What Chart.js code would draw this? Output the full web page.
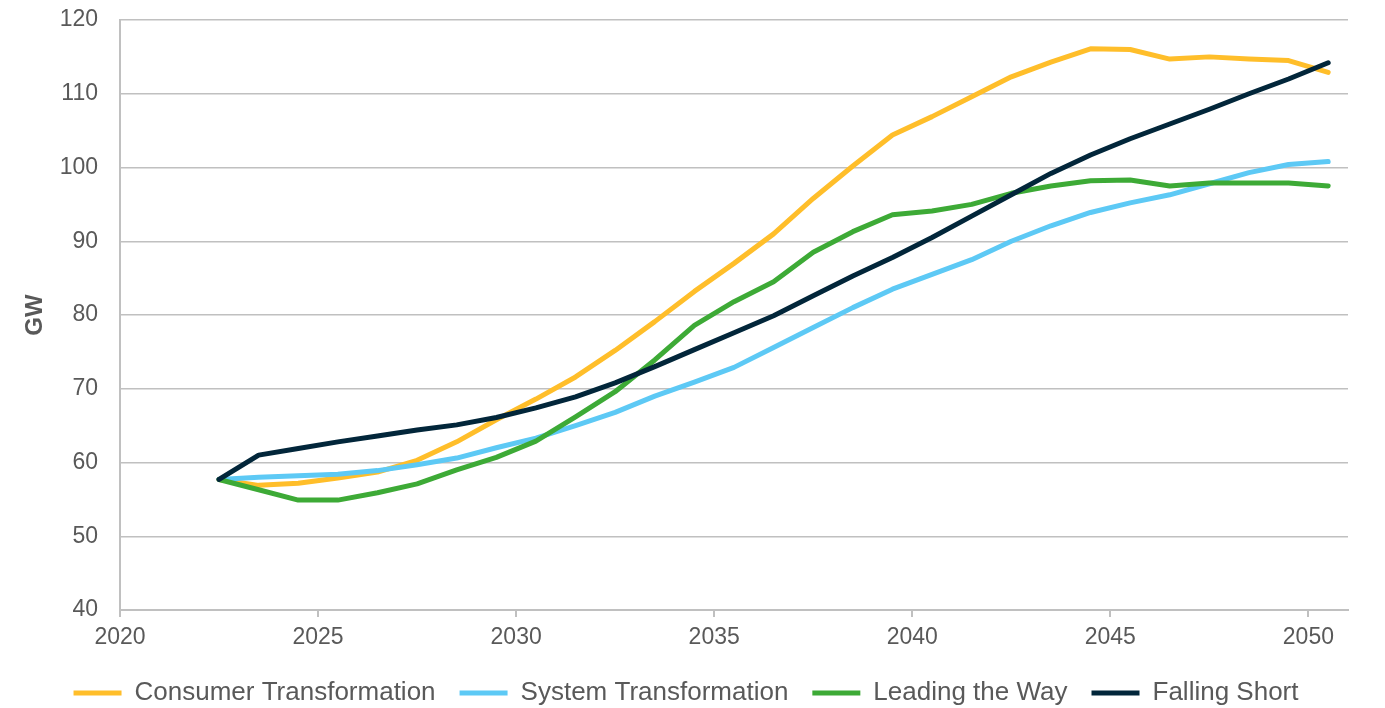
<!DOCTYPE html>
<html>
<head>
<meta charset="utf-8">
<script src="https://cdn.jsdelivr.net/npm/chart.js@4.4.1/dist/chart.umd.min.js"></script>
<style>
  html, body { margin: 0; padding: 0; background: #fff; }
  #wrap { width: 1385px; height: 708px; }
</style>
</head>
<body>
<div id="wrap"><canvas id="myChart"></canvas></div>
<script>
// one value per year, plotted at mid-year
const years = [2022, 2023, 2024, 2025, 2026, 2027, 2028, 2029, 2030, 2031, 2032, 2033, 2034, 2035,
  2036, 2037, 2038, 2039, 2040, 2041, 2042, 2043, 2044, 2045, 2046, 2047, 2048, 2049, 2050]
const xTicks = [2020, 2025, 2030, 2035, 2040, 2045, 2050]

const consumerTransformation = [57.7, 56.9, 57.2, 57.9, 58.7, 60.3, 62.8, 65.8, 68.6, 71.6, 75.2, 79.1, 83.2, 87.0,
  91.0, 95.8, 100.2, 104.4, 106.9, 109.6, 112.3, 114.3, 116.1, 116.0, 114.7, 115.0, 114.7, 114.5, 112.9]
const systemTransformation = [57.7, 58.0, 58.2, 58.4, 58.9, 59.7, 60.6, 62.0, 63.3, 65.0, 66.8, 69.0, 70.9, 72.9,
  75.6, 78.3, 81.0, 83.5, 85.5, 87.5, 90.0, 92.1, 93.9, 95.2, 96.3, 97.8, 99.3, 100.4, 100.8]
const leadingTheWay = [57.7, 56.3, 54.9, 54.9, 55.9, 57.1, 59.0, 60.7, 62.9, 66.2, 69.6, 73.9, 78.6, 81.8,
  84.5, 88.5, 91.3, 93.6, 94.1, 95.0, 96.5, 97.5, 98.2, 98.3, 97.5, 97.9, 97.9, 97.9, 97.5]
const fallingShort = [57.7, 61.0, 61.9, 62.8, 63.6, 64.4, 65.1, 66.1, 67.4, 68.9, 70.8, 73.0, 75.3, 77.6,
  79.9, 82.6, 85.3, 87.8, 90.5, 93.4, 96.3, 99.2, 101.7, 103.9, 105.9, 107.9, 110.0, 112.0, 114.2]

const seriesNames = ['Consumer Transformation', 'System Transformation', 'Leading the Way', 'Falling Short']
const seriesColors = ['#FFBE2A', '#5DC9F5', '#3DAA36', '#02263A']
const seriesValues = [consumerTransformation, systemTransformation, leadingTheWay, fallingShort]

const textColor = '#595959'
const gridColor = '#C0C0C0'
const fontFamily = "'Liberation Sans', Arial, sans-serif"

const toPoints = (values) => years.map((yr, i) => ({x: yr + 0.5, y: values[i]}))

const data = {
    datasets: seriesNames.map((name, i) => ({
        label: name,
        data: toPoints(seriesValues[i]),
        borderColor: seriesColors[i],
        backgroundColor: seriesColors[i],
        borderWidth: 5,
        borderCapStyle: 'round',
        borderJoinStyle: 'round',
        pointRadius: 0,
        pointStyle: 'line',
        fill: false,
        tension: 0,
        order: seriesNames.length - i   // last series on top, like the original
    }))
}

// move the legend a bit, Chart.js puts it a few px too high and left
const legendNudge = {
    id: 'legendNudge',
    afterLayout(chart) {
        const lg = chart.legend
        lg.top += 8
        lg.bottom += 8
        lg.left += 12
        lg.right += 12
    }
}

const config = {
    type: 'line',
    data: data,
    plugins: [legendNudge],
    options: {
        responsive: true,
        maintainAspectRatio: false,
        animation: false,
        layout: {
            padding: {top: 20, right: 37, bottom: 0, left: 0}
        },
        plugins: {
            tooltip: {enabled: false},
            legend: {
                position: 'bottom',
                labels: {
                    usePointStyle: true,
                    pointStyleWidth: 48,
                    padding: 24,
                    color: textColor,
                    font: {family: fontFamily, size: 26},
                    sort: (a, b) => a.datasetIndex - b.datasetIndex
                }
            }
        },
        scales: {
            x: {
                type: 'linear',
                min: 2020,
                max: 2051,
                afterBuildTicks: (scale) => {
                    scale.ticks = xTicks.map(v => ({value: v}))
                },
                afterFit: (scale) => { scale.height = 38 },
                ticks: {
                    padding: 7,
                    color: textColor,
                    maxRotation: 0,
                    autoSkip: false,
                    font: {family: fontFamily, size: 23},
                    callback: (v) => String(v)
                },
                grid: {
                    drawOnChartArea: false,
                    drawTicks: true,
                    tickLength: 7,
                    color: gridColor,
                    lineWidth: 2
                },
                border: {display: true, color: gridColor, width: 2}
            },
            y: {
                min: 40,
                max: 120,
                afterFit: (scale) => { scale.width = 120 },
                ticks: {
                    stepSize: 10,
                    padding: 0,
                    color: textColor,
                    font: {family: fontFamily, size: 23}
                },
                title: {
                    display: true,
                    text: 'GW',
                    color: textColor,
                    font: {family: fontFamily, size: 24, weight: 'bold'},
                    padding: {top: 21, bottom: 0}
                },
                grid: {
                    // invisible tick marks keep the labels away from the axis
                    drawTicks: true,
                    tickLength: 22,
                    tickColor: 'rgba(0,0,0,0)',
                    color: gridColor,
                    lineWidth: 1.5
                },
                border: {display: true, color: gridColor, width: 2}
            }
        }
    }
}

const chart = new Chart(document.getElementById('myChart'), config)
</script>
</body>
</html>
